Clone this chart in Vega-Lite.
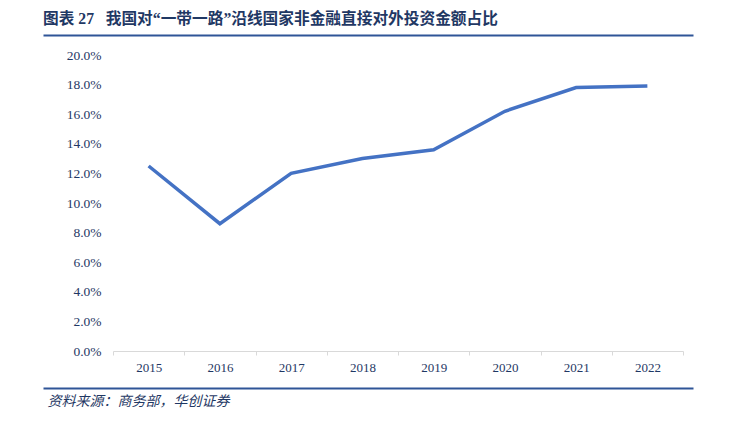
{
  "$schema": "https://vega.github.io/schema/vega-lite/v6.json",
  "autosize": {"type": "none"},
  "padding": {"left": 43, "top": 35, "right": 46, "bottom": 38},
  "width": 650,
  "height": 353,
  "background": "white",
  "title": {
    "text": "图表 27\u00a0\u00a0 我国对“一带一路”沿线国家非金融直接对外投资金额占比",
    "anchor": "start",
    "font": "Liberation Serif, Noto Sans CJK SC",
    "fontSize": 15.7,
    "fontWeight": "bold",
    "color": "#1F3864",
    "offset": 7
  },
  "config": {"view": {"stroke": null}},
  "resolve": {
    "scale": {"x": "independent", "y": "independent"},
    "axis": {"x": "independent", "y": "independent"}
  },
  "layer": [
    {
      "data": {
        "values": [
          {"year": "2015", "share": 0.125},
          {"year": "2016", "share": 0.086},
          {"year": "2017", "share": 0.120},
          {"year": "2018", "share": 0.130},
          {"year": "2019", "share": 0.136},
          {"year": "2020", "share": 0.162},
          {"year": "2021", "share": 0.178},
          {"year": "2022", "share": 0.179}
        ]
      },
      "mark": {"type": "line", "color": "#4472C4", "strokeWidth": 3.5},
      "encoding": {
        "x": {
          "field": "year",
          "type": "ordinal",
          "bandPosition": 0.5,
          "scale": {"type": "band", "paddingInner": 0, "paddingOuter": 0, "range": [70, 640]},
          "axis": {
            "orient": "bottom",
            "offset": -37,
            "title": null,
            "labelAngle": 0,
            "tickBand": "extent",
            "domainColor": "#D9D9D9",
            "tickColor": "#D9D9D9",
            "tickSize": 4,
            "labelPadding": 6,
            "labelFont": "Liberation Serif",
            "labelFontSize": 13,
            "labelColor": "#1F3864",
            "grid": false
          }
        },
        "y": {
          "field": "share",
          "type": "quantitative",
          "scale": {"domain": [0, 0.2], "nice": false, "range": [316, 20]},
          "axis": {
            "orient": "left",
            "offset": -70,
            "title": null,
            "format": ".1%",
            "values": [0, 0.02, 0.04, 0.06, 0.08, 0.1, 0.12, 0.14, 0.16, 0.18, 0.2],
            "domain": false,
            "ticks": false,
            "grid": false,
            "labelPadding": 12,
            "labelFont": "Liberation Serif",
            "labelFontSize": 13.5,
            "labelColor": "#1F3864"
          }
        }
      }
    },
    {
      "data": {"values": [{}]},
      "mark": {"type": "point", "opacity": 0},
      "encoding": {
        "x": {
          "datum": 0.5,
          "type": "quantitative",
          "scale": {"domain": [0, 1]},
          "axis": {
            "orient": "bottom",
            "domain": false,
            "ticks": false,
            "labels": false,
            "grid": false,
            "title": "资料来源：商务部，华创证券",
            "titleAnchor": "start",
            "titleX": 4,
            "titlePadding": 6,
            "titleFont": "Noto Sans CJK SC",
            "titleFontSize": 14,
            "titleFontStyle": "italic",
            "titleFontWeight": "normal",
            "titleColor": "#1F3864"
          }
        },
        "y": {
          "datum": 0.5,
          "type": "quantitative",
          "scale": {"domain": [0, 1]},
          "axis": {
            "orient": "right",
            "values": [0, 1],
            "domain": false,
            "ticks": false,
            "labels": false,
            "title": null,
            "grid": true,
            "gridColor": "#2F5597",
            "gridWidth": 2,
            "gridOpacity": 1
          }
        }
      }
    }
  ]
}
